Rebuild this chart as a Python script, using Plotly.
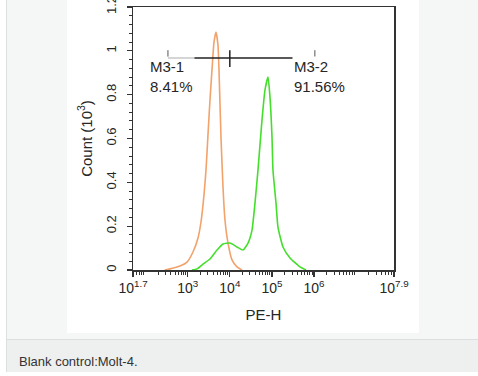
import math
import plotly.graph_objects as go

# ---- data (x in log10(PE-H), y in Count x10^3) ----
orange_log = [2.45, 2.579, 2.816, 2.983, 3.125, 3.244, 3.315, 3.386, 3.434, 3.481, 3.529, 3.576,
              3.624, 3.672, 3.719, 3.743, 3.790, 3.838, 3.885, 3.957, 4.052, 4.170, 4.289]
orange_count = [0, 0.005, 0.018, 0.036, 0.082, 0.146, 0.219, 0.342, 0.456, 0.616, 0.776, 0.912,
                1.040, 1.086, 1.026, 0.912, 0.607, 0.379, 0.228, 0.123, 0.046, 0.014, 0]

green_log = [3.10, 3.220, 3.363, 3.529, 3.695, 3.838, 4.004, 4.170, 4.313, 4.432, 4.527, 4.598,
             4.669, 4.764, 4.835, 4.907, 4.954, 5.002, 5.025, 5.097, 5.144, 5.263, 5.429, 5.667, 5.809]
green_count = [0, 0.005, 0.027, 0.050, 0.091, 0.119, 0.123, 0.105, 0.091, 0.123, 0.182, 0.306,
               0.456, 0.684, 0.821, 0.880, 0.789, 0.607, 0.456, 0.306, 0.196, 0.105, 0.055, 0.014, 0]

gate_bounds_log = [2.53, 4.0, 6.02]
gate_level = 0.967
gate_names = ["M3-1", "M3-2"]
gate_pcts = ["8.41%", "91.56%"]

x_tick_exps = [1.7, 3, 4, 5, 6, 7.9]
x_tick_labels = ["10<sup>1.7</sup>", "10<sup>3</sup>", "10<sup>4</sup>", "10<sup>5</sup>",
                 "10<sup>6</sup>", "10<sup>7.9</sup>"]
y_ticks = [0, 0.2, 0.4, 0.6, 0.8, 1, 1.2]
y_tick_labels = ["0", "0.2", "0.4", "0.6", "0.8", "1", "1.2"]
caption = "Blank control:Molt-4."

FONT = "Liberation Sans, Arial, sans-serif"
TXT = "#262626"
AX = "#333333"

fig = go.Figure()
fig.add_trace(go.Scatter(x=[10 ** v for v in orange_log], y=orange_count, mode="lines",
                         line=dict(color="#F2A26B", width=1.6, shape="spline", smoothing=0.5),
                         showlegend=False, hoverinfo="skip"))
fig.add_trace(go.Scatter(x=[10 ** v for v in green_log], y=green_count, mode="lines",
                         line=dict(color="#45DE2C", width=1.6, shape="spline", smoothing=0.5),
                         showlegend=False, hoverinfo="skip"))

# gate line
fig.add_trace(go.Scatter(x=[10 ** gate_bounds_log[0], 10 ** gate_bounds_log[-1]],
                         y=[gate_level, gate_level], mode="lines",
                         line=dict(color="#222222", width=1.5), showlegend=False, hoverinfo="skip"))
# gate end ticks (small, above) and divider tick (taller)
for i, g in enumerate(gate_bounds_log):
    if i in (0, len(gate_bounds_log) - 1):
        ys = [gate_level + 0.005, gate_level + 0.036]
        col, w = "#555555", 1.0
    else:
        ys = [gate_level - 0.041, gate_level + 0.036]
        col, w = "#222222", 1.5
    fig.add_trace(go.Scatter(x=[10 ** g, 10 ** g], y=ys, mode="lines",
                             line=dict(color=col, width=w), showlegend=False, hoverinfo="skip"))

# gate labels
label_x = [2.056, 5.477]
label_bg = ["rgba(255,255,255,0.75)", "white"]
for name, pct, lx, bg in zip(gate_names, gate_pcts, label_x, label_bg):
    fig.add_annotation(x=lx, y=0.976, xref="x", yref="y", text=f"{name}<br>{pct}",
                       showarrow=False, xanchor="left", yanchor="top", align="left",
                       bgcolor=bg, borderpad=1,
                       font=dict(family=FONT, size=15, color=TXT))

# page background pieces (paper coords)
def px(xp):
    return (xp - 133) / 261.0

def py(yp):
    return (270 - yp) / 263.0

shapes = [
    dict(type="rect", xref="paper", yref="paper", x0=px(6), x1=px(480), y0=py(340), y1=py(-2),
         fillcolor="#f5f6f6", line=dict(width=0), layer="below"),
    dict(type="rect", xref="paper", yref="paper", x0=px(6), x1=px(480), y0=py(372), y1=py(340),
         fillcolor="#eef0ef", line=dict(width=0), layer="below"),
    dict(type="rect", xref="paper", yref="paper", x0=px(67), x1=px(419), y0=py(333), y1=py(-2),
         fillcolor="white", line=dict(width=0), layer="below"),
    dict(type="line", xref="paper", yref="paper", x0=px(6.5), x1=px(6.5), y0=py(372), y1=py(-2),
         line=dict(color="#dcdfdf", width=1), layer="below"),
    dict(type="line", xref="paper", yref="paper", x0=px(6), x1=px(480), y0=py(339.5), y1=py(339.5),
         line=dict(color="#dcdfdf", width=1), layer="below"),
]

minor_x = [k * 10 ** d for d in range(1, 8) for k in range(2, 10)
           if 1.7 < (d + math.log10(k)) < 7.9]

fig.update_layout(
    width=478, height=376,
    margin=dict(l=133, r=84, t=7, b=106, autoexpand=False),
    paper_bgcolor="white", plot_bgcolor="rgba(0,0,0,0)",
    shapes=shapes,
    font=dict(family=FONT, color=TXT),
)
fig.add_annotation(x=px(17), y=py(362), xref="paper", yref="paper", text=caption, showarrow=False,
                   xanchor="left", yanchor="middle", font=dict(family=FONT, size=13, color="#333333"))

fig.update_xaxes(
    type="log", range=[1.7, 7.9], automargin=False,
    tickvals=[10 ** e for e in x_tick_exps], ticktext=x_tick_labels,
    ticks="outside", ticklen=5, tickwidth=1.2, tickcolor=AX,
    tickfont=dict(family=FONT, size=14, color=TXT),
    minor=dict(tickvals=minor_x, ticks="outside", ticklen=3, tickcolor=AX, tickwidth=1),
    showline=True, linecolor=AX, linewidth=1.5, mirror=True,
    showgrid=False, zeroline=False, ticklabeloverflow="allow",
    title=dict(text="PE-H", font=dict(family=FONT, size=15, color=TXT), standoff=14),
)
fig.update_yaxes(
    range=[0, 1.2], automargin=False, tickvals=y_ticks, ticktext=y_tick_labels,
    tickangle=-90, ticklabelstandoff=5, ticklabeloverflow="allow",
    ticks="outside", ticklen=5, tickwidth=1.2, tickcolor=AX,
    tickfont=dict(family=FONT, size=13, color=TXT),
    minor=dict(dtick=0.04, ticks="outside", ticklen=3, tickcolor=AX, tickwidth=1),
    showline=True, linecolor=AX, linewidth=1.5, mirror=True,
    showgrid=False, zeroline=False,
    title=dict(text="Count (10<sup>3</sup>)", font=dict(family=FONT, size=15, color=TXT), standoff=8),
)

fig.write_html("out.html", config={"displayModeBar": False, "staticPlot": True},
               post_script="document.body.style.margin='0';")
